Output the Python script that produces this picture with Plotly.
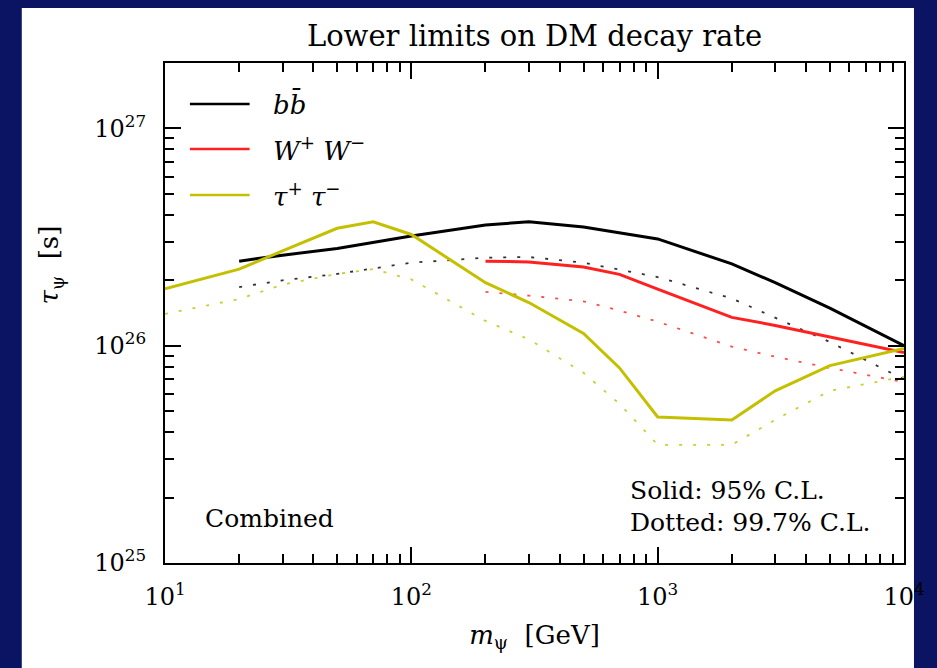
import numpy as np
import plotly.graph_objects as go

# Lower limits on the DM lifetime (seconds) versus DM mass (GeV)
mass_bb = [20, 30, 50, 100, 200, 300, 500, 1000, 2000, 3000, 5000, 10000]
bb_95 = [2.45e26, 2.61e26, 2.80e26, 3.20e26, 3.59e26, 3.72e26, 3.52e26, 3.10e26, 2.38e26, 1.95e26, 1.49e26, 1.00e26]
bb_997 = [1.86e26, 2.00e26, 2.14e26, 2.41e26, 2.54e26, 2.56e26, 2.41e26, 2.07e26, 1.65e26, 1.35e26, 1.04e26, 7.0e25]

mass_ww = [200, 300, 500, 700, 1000, 2000, 3000, 5000, 10000]
ww_95 = [2.45e26, 2.43e26, 2.30e26, 2.13e26, 1.82e26, 1.35e26, 1.24e26, 1.10e26, 9.3e25]
ww_997 = [1.77e26, 1.70e26, 1.60e26, 1.45e26, 1.29e26, 9.9e25, 8.9e25, 7.9e25, 6.8e25]

mass_tau = [10, 20, 30, 50, 70, 100, 200, 300, 500, 700, 1000, 2000, 3000, 5000, 10000]
tau_95 = [1.83e26, 2.25e26, 2.73e26, 3.47e26, 3.72e26, 3.25e26, 1.95e26, 1.58e26, 1.14e26, 7.9e25, 4.7e25, 4.55e25, 6.2e25, 8.1e25, 9.7e25]
tau_997 = [1.40e26, 1.64e26, 1.91e26, 2.14e26, 2.25e26, 2.02e26, 1.30e26, 1.07e26, 7.5e25, 5.4e25, 3.5e25, 3.5e25, 4.56e25, 6.2e25, 7.2e25]

channel_names = ["<i>bb̄</i>", "<i>W</i><sup>+</sup> <i>W</i><sup>−</sup>", "<i>τ</i><sup>+</sup> <i>τ</i><sup>−</sup>"]
channel_colors = ["#000000", "#ff2020", "#c4c000"]

x_tickvals = [10, 100, 1000, 10000]
x_ticktext = ["10<sup>1</sup>", "10<sup>2</sup>", "10<sup>3</sup>", "10<sup>4</sup>"]
y_tickvals = [1e25, 1e26, 1e27]
y_ticktext = ["10<sup>25</sup>", "10<sup>26</sup>", "10<sup>27</sup>"]

NAVY = "#0a1462"
FONT = "DejaVu Serif"

fig = go.Figure()

series = [
    (mass_bb, bb_95, bb_997),
    (mass_ww, ww_95, ww_997),
    (mass_tau, tau_95, tau_997),
]
for (m, solid, dotted), name, color in zip(series, channel_names, channel_colors):
    fig.add_trace(go.Scatter(x=m, y=dotted, mode="lines", name=name + " (99.7%)",
                             line=dict(color=color, width=1.8, dash="3px,11px"),
                             opacity=0.8, showlegend=False, hoverinfo="skip"))
for (m, solid, dotted), name, color in zip(series, channel_names, channel_colors):
    fig.add_trace(go.Scatter(x=m, y=solid, mode="lines", name=name,
                             line=dict(color=color, width=3),
                             showlegend=False))

# White panel behind the figure
fig.add_shape(type="rect", xref="paper", yref="paper",
              x0=-0.1938, x1=1.0135, y0=-0.3, y1=1.11,
              fillcolor="white", line=dict(width=0), layer="below")

# Hand-made legend in the upper-left corner
legend_y = [0.918, 0.828, 0.736]
for label, color, ly in zip(channel_names, channel_colors, legend_y):
    fig.add_shape(type="line", xref="paper", yref="paper",
                  x0=0.0337, x1=0.1145, y0=ly, y1=ly,
                  line=dict(color=color, width=2.6))
    fig.add_annotation(xref="paper", yref="paper", x=0.1440, y=ly,
                       text=label, showarrow=False, xanchor="left", yanchor="middle",
                       font=dict(family=FONT, size=26, color="black"))

fig.add_annotation(xref="paper", yref="paper", x=0.0511, y=0.09,
                   text="Combined", showarrow=False, xanchor="left", yanchor="middle",
                   font=dict(family=FONT, size=25, color="black"))
fig.add_annotation(xref="paper", yref="paper", x=0.627, y=0.146,
                   text="Solid: 95% C.L.", showarrow=False, xanchor="left", yanchor="middle",
                   font=dict(family=FONT, size=25, color="black"))
fig.add_annotation(xref="paper", yref="paper", x=0.627, y=0.082,
                   text="Dotted: 99.7% C.L.", showarrow=False, xanchor="left", yanchor="middle",
                   font=dict(family=FONT, size=25, color="black"))

# y-axis title
fig.add_annotation(xref="paper", yref="paper", x=-0.155, y=0.596,
                   text="<i>τ</i><sub>ψ</sub>  [s]", showarrow=False, textangle=-90,
                   xanchor="center", yanchor="middle",
                   font=dict(family=FONT, size=26, color="black"))

axis_common = dict(
    type="log", showgrid=False, zeroline=False,
    showline=True, linecolor="black", linewidth=2, mirror="allticks",
    ticks="inside", ticklen=16, tickwidth=2, tickcolor="black",
    tickfont=dict(family=FONT, size=24, color="black"),
    minor=dict(ticks="inside", ticklen=9, tickwidth=2, tickcolor="black", dtick="D1", showgrid=False),
)

fig.update_layout(
    width=937, height=668,
    margin=dict(l=165, r=29, t=63, b=105),
    paper_bgcolor=NAVY, plot_bgcolor="white",
    showlegend=False,
    title=dict(text="Lower limits on DM decay rate", x=0.5, xref="paper",
               y=1 - 36 / 668, yref="container", xanchor="center", yanchor="middle",
               font=dict(family=FONT, size=29, color="black")),
    xaxis=dict(axis_common, range=[1, 4], tickvals=x_tickvals, ticktext=x_ticktext,
               ticklabelstandoff=11,
               title=dict(text="<i>m</i><sub>ψ</sub>  [GeV]", standoff=16,
                          font=dict(family=FONT, size=26, color="black"))),
    yaxis=dict(axis_common, range=[25, np.log10(2e27)], tickvals=y_tickvals, ticktext=y_ticktext,
               ticklabelstandoff=12),
)

fig.write_html("out.html")
